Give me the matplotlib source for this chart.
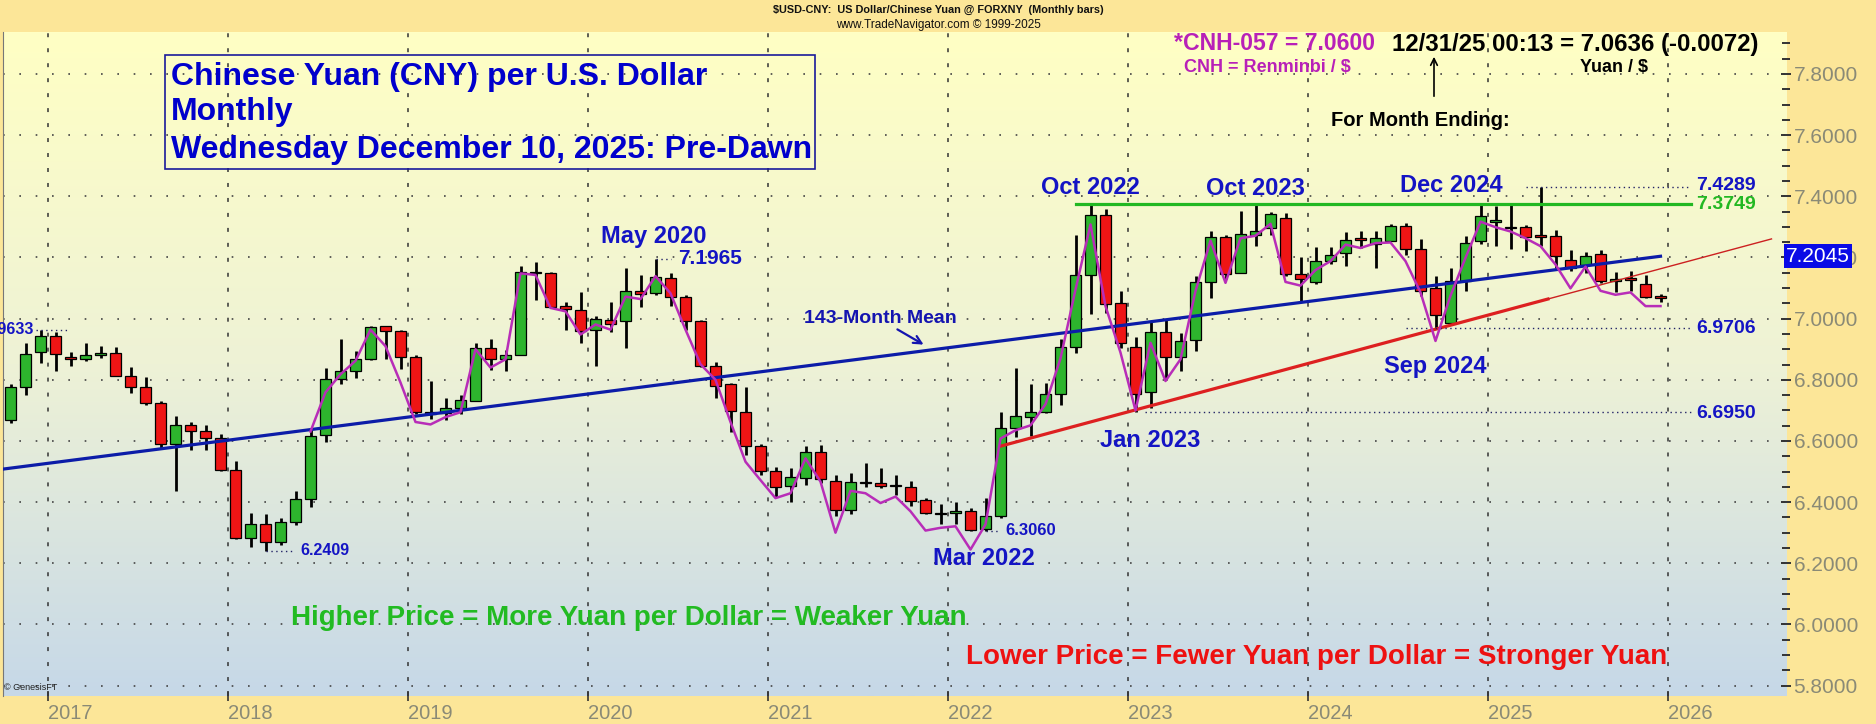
import numpy as np
import pandas as pd
import matplotlib
matplotlib.use('Agg')
import matplotlib.pyplot as plt
from matplotlib.colors import LinearSegmentedColormap
from matplotlib.patches import Rectangle
from matplotlib.ticker import MultipleLocator

plt.rcParams['font.family'] = ['Liberation Sans', 'DejaVu Sans']

# monthly bars, Oct 2016 .. Dec 2025
first_month = '2016-10'
opens = [6.667, 6.775, 6.891,
         6.943, 6.876, 6.867, 6.882, 6.888, 6.811, 6.778, 6.723, 6.589, 6.651, 6.632, 6.610,
         6.505, 6.283, 6.329, 6.270, 6.335, 6.410, 6.621, 6.804, 6.829, 6.869, 6.975, 6.959,
         6.876, 6.696, 6.690, 6.708, 6.732, 6.903, 6.867, 6.882, 7.153, 7.148, 7.042, 7.027,
         6.964, 6.994, 6.992, 7.092, 7.083, 7.134, 7.070, 6.991, 6.845, 6.786, 6.694, 6.584,
         6.503, 6.454, 6.480, 6.564, 6.470, 6.373, 6.467, 6.462, 6.456, 6.451, 6.408, 6.366,
         6.364, 6.370, 6.312, 6.354, 6.642, 6.678, 6.694, 6.752, 6.908, 7.144, 7.340, 7.050,
         6.908, 6.759, 6.957, 6.873, 6.930, 7.120, 7.267, 7.148, 7.274, 7.296, 7.328, 7.145,
         7.120, 7.188, 7.215, 7.263, 7.245, 7.253, 7.303, 7.228, 7.099, 6.987, 7.124, 7.253,
         7.317, 7.297, 7.301, 7.272, 7.269, 7.191, 7.177, 7.213, 7.124, 7.134, 7.113, 7.075]
highs = [6.786, 6.921, 6.9633,
         6.955, 6.891, 6.921, 6.910, 6.908, 6.843, 6.808, 6.732, 6.683, 6.662, 6.651, 6.624,
         6.535, 6.364, 6.361, 6.348, 6.437, 6.635, 6.840, 6.934, 6.894, 6.977, 6.977, 6.962,
         6.882, 6.797, 6.741, 6.751, 6.919, 6.934, 6.896, 7.173, 7.184, 7.153, 7.056, 7.086,
         7.010, 7.056, 7.164, 7.143, 7.1965, 7.150, 7.078, 6.994, 6.858, 6.791, 6.775, 6.590,
         6.516, 6.510, 6.584, 6.586, 6.489, 6.494, 6.527, 6.510, 6.489, 6.469, 6.412, 6.393,
         6.400, 6.381, 6.414, 6.694, 6.838, 6.786, 6.791, 6.934, 7.272, 7.3749, 7.359, 7.092,
         6.940, 6.990, 6.997, 6.952, 7.139, 7.288, 7.274, 7.352, 7.371, 7.349, 7.344, 7.202,
         7.234, 7.234, 7.282, 7.287, 7.285, 7.310, 7.312, 7.260, 7.140, 7.167, 7.271, 7.371,
         7.368, 7.371, 7.306, 7.4289, 7.290, 7.226, 7.217, 7.226, 7.151, 7.156, 7.142, 7.081]
lows = [6.660, 6.751, 6.856,
        6.829, 6.845, 6.862, 6.872, 6.811, 6.757, 6.719, 6.578, 6.435, 6.570, 6.570, 6.503,
        6.281, 6.253, 6.2409, 6.259, 6.324, 6.383, 6.597, 6.786, 6.805, 6.865, 6.867, 6.835,
        6.689, 6.672, 6.667, 6.689, 6.732, 6.832, 6.828, 6.882, 7.060, 7.035, 6.964, 6.921,
        6.845, 6.956, 6.905, 7.038, 7.078, 7.042, 6.964, 6.843, 6.742, 6.629, 6.554, 6.489,
        6.418, 6.402, 6.456, 6.462, 6.354, 6.361, 6.449, 6.445, 6.424, 6.386, 6.361, 6.329,
        6.327, 6.305, 6.306, 6.348, 6.613, 6.616, 6.692, 6.716, 6.889, 7.014, 7.019, 6.905,
        6.695, 6.707, 6.800, 6.829, 6.894, 7.068, 7.129, 7.148, 7.239, 7.274, 7.140, 7.054,
        7.113, 7.178, 7.172, 7.231, 7.167, 7.253, 7.207, 7.075, 6.9706, 6.981, 7.091, 7.245,
        7.237, 7.228, 7.220, 7.237, 7.167, 7.156, 7.148, 7.116, 7.088, 7.091, 7.068, 7.056]
closes = [6.775, 6.885, 6.943,
          6.883, 6.867, 6.882, 6.888, 6.811, 6.778, 6.723, 6.589, 6.651, 6.632, 6.610, 6.505,
          6.283, 6.329, 6.270, 6.335, 6.410, 6.615, 6.804, 6.829, 6.869, 6.973, 6.958, 6.876,
          6.694, 6.689, 6.708, 6.735, 6.903, 6.867, 6.882, 7.153, 7.148, 7.038, 7.031, 6.959,
          6.999, 6.981, 7.092, 7.080, 7.137, 7.072, 6.991, 6.845, 6.780, 6.697, 6.584, 6.503,
          6.451, 6.483, 6.564, 6.476, 6.373, 6.467, 6.462, 6.454, 6.452, 6.405, 6.364, 6.362,
          6.370, 6.310, 6.354, 6.642, 6.683, 6.694, 6.754, 6.908, 7.144, 7.340, 7.047, 6.921,
          6.754, 6.957, 6.876, 6.927, 7.120, 7.267, 7.145, 7.276, 7.288, 7.341, 7.145, 7.129,
          7.188, 7.207, 7.256, 7.256, 7.263, 7.303, 7.228, 7.091, 7.011, 7.124, 7.247, 7.337,
          7.323, 7.296, 7.267, 7.268, 7.206, 7.167, 7.206, 7.124, 7.131, 7.127, 7.072, 7.068]

# magenta line, Jun 2018 .. Dec 2025
line_start = '2018-06'
line_vals = [6.631, 6.759, 6.818, 6.862, 6.964, 6.910, 6.791,
             6.662, 6.654, 6.678, 6.694, 6.900, 6.840, 6.867, 7.148, 7.143, 7.035, 7.024, 6.948,
             6.981, 6.964, 7.072, 7.064, 7.139, 7.083, 6.964, 6.851, 6.800, 6.662, 6.532, 6.472,
             6.413, 6.429, 6.543, 6.467, 6.300, 6.437, 6.429, 6.397, 6.418, 6.370, 6.307, 6.316,
             6.321, 6.245, 6.327, 6.608, 6.635, 6.651, 6.720, 6.870, 7.095, 7.308, 7.041, 6.889,
             6.700, 6.921, 6.796, 6.867, 7.090, 7.255, 7.117, 7.263, 7.271, 7.310, 7.120, 7.108,
             7.159, 7.188, 7.242, 7.231, 7.247, 7.249, 7.188, 7.086, 6.927, 7.075, 7.199, 7.317,
             7.299, 7.285, 7.263, 7.237, 7.177, 7.099, 7.170, 7.091, 7.078, 7.086, 7.041, 7.041]

mean_vals = [6.508, 7.204]      # 143-month mean: left edge, Dec 2025
trend_vals = [6.583, 7.084]     # support line: Apr 2022, Jun 2025
resist = 7.3749
years = list(range(2017, 2027))
yticks = [5.8, 6.0, 6.2, 6.4, 6.6, 6.8, 7.0, 7.2, 7.4, 7.6, 7.8]

W, H = 1876, 724
def fx(px):
    return px / W
def fy(py):
    return 1 - py / H
def mx(s):
    p = pd.Period(s, freq='M')
    return (p.year - 2017) * 12 + p.month - 1 + 0.5

months = pd.period_range(first_month, periods=len(opens), freq='M')
xc = np.array((months.year - 2017) * 12 + months.month - 1) + 0.5
o = np.array(opens); h = np.array(highs); l = np.array(lows); c = np.array(closes)

BG = '#fce698'
GREEN = '#2db42d'
RED = '#ee1515'
BLUE = '#1414c4'
MAG = '#b82db8'

fig = plt.figure(figsize=(W / 100, H / 100), dpi=100, facecolor=BG)
ax = fig.add_axes([fx(3), fy(696), fx(1786 - 3), (696 - 32) / H])
x0, x1 = (3 - 48) / 15, (1786 - 48) / 15
y0, y1 = 7.8 - (696 - 74) / 305.8, 7.8 + (74 - 32) / 305.8
ax.set_xlim(x0, x1)
ax.set_ylim(y0, y1)

grad = LinearSegmentedColormap.from_list('bg', ['#ffffc4', '#eef2d6', '#c6d8e8'])
ax.imshow(np.linspace(0, 1, 256).reshape(-1, 1), cmap=grad, aspect='auto',
          extent=[x0, x1, y0, y1], zorder=0)

ax.set_axisbelow(True)
ax.grid(axis='y', which='major', color='#444444', ls=(0, (1, 8.8)), lw=1.2)
ax.grid(axis='x', which='major', color='#333333', ls=(0, (2.6, 7.2)), lw=1.1)

# candles
up = c >= o
ax.vlines(xc, l, h, color='black', lw=2.0, zorder=3)
ax.bar(xc, np.maximum(np.abs(c - o), 0.004), bottom=np.minimum(o, c), width=0.68,
       color=np.where(up, GREEN, RED), edgecolor='black', lw=0.9, zorder=4)

# 143-month mean
ax.plot([x0, mx('2025-12')], mean_vals, color='#0c1ca8', lw=2.3, zorder=5)

# support trend
ta, tb = mx('2022-04'), mx('2025-06')
slope = (trend_vals[1] - trend_vals[0]) / (tb - ta)
ax.plot([ta, 100.0], [trend_vals[0], trend_vals[0] + slope * (100.0 - ta)],
        color='#dd2020', lw=2.3, zorder=5)
ax.plot([100.0, 114.9], [trend_vals[0] + slope * (100.0 - ta), trend_vals[0] + slope * (114.9 - ta)],
        color='#cc2020', lw=1.0, zorder=5)

# resistance
ax.plot([68.5, 109.5], [resist, resist], color='#22b822', lw=2.3, zorder=5)

# magenta line
lm = pd.period_range(line_start, periods=len(line_vals), freq='M')
lx = np.array((lm.year - 2017) * 12 + lm.month - 1) + 0.5
ax.plot(lx, line_vals, color=MAG, lw=1.8, zorder=6)

# dotted level lines and labels
dot = dict(color='#222266', ls=(0, (1, 2.5)), lw=1.0, zorder=5)
ax.plot([-0.8, 1.27], [highs[2]] * 2, **dot)
ax.text(-0.93, highs[2], '6.9633', color=BLUE, fontsize=11.5, fontweight='bold',
        ha='right', va='center', zorder=7)
ax.plot([mx('2018-03'), 16.3], [lows[17]] * 2, **dot)
ax.text(16.85, lows[17], '6.2409', color=BLUE, fontsize=11.5, fontweight='bold',
        ha='left', va='center', zorder=7)
ax.plot([mx('2020-05'), 41.5], [highs[43]] * 2, **dot)
ax.text(42.0, highs[43], '7.1965', color=BLUE, fontsize=15, fontweight='bold',
        ha='left', va='center', zorder=7)
ax.plot([mx('2022-03'), 63.3], [lows[65]] * 2, **dot)
ax.text(63.8, lows[65], '6.3060', color=BLUE, fontsize=12, fontweight='bold',
        ha='left', va='center', zorder=7)

lab_x = 109.85
ax.plot([98.5, 109.5], [7.4289] * 2, **dot)
ax.plot([90.5, 109.5], [6.9706] * 2, **dot)
ax.plot([73.1, 109.5], [6.6950] * 2, **dot)
ax.text(lab_x, 7.437, '7.4289', color=BLUE, fontsize=14, fontweight='bold', ha='left', va='center', zorder=7)
ax.text(lab_x, resist - 0.003, '7.3749', color='#22b822', fontsize=14, fontweight='bold', ha='left', va='center', zorder=7)
ax.text(lab_x, 6.969, '6.9706', color=BLUE, fontsize=14, fontweight='bold', ha='left', va='center', zorder=7)
ax.text(lab_x, 6.691, '6.6950', color=BLUE, fontsize=14, fontweight='bold', ha='left', va='center', zorder=7)

# date labels
for txt, xx, yy in [('May 2020', 40.4, 7.267), ('Oct 2022', 69.47, 7.430),
                    ('Oct 2023', 80.47, 7.427), ('Dec 2024', 93.53, 7.434),
                    ('Sep 2024', 92.47, 6.845), ('Jan 2023', 73.47, 6.603),
                    ('Mar 2022', 62.4, 6.214)]:
    ax.text(xx, yy, txt, color=BLUE, fontsize=17, fontweight='bold', ha='center', va='center', zorder=7)

ax.text(55.47, 6.999, '143-Month Mean', color='#1414b0', fontsize=14, fontweight='bold',
        ha='center', va='center', zorder=7)
ax.annotate('', xy=(fx(926), fy(346)), xytext=(fx(895), fy(328)), xycoords='figure fraction',
            arrowprops=dict(arrowstyle='->', color='#1414b0', lw=1.6, mutation_scale=14))

# axes styling
for s in ['top', 'right', 'bottom']:
    ax.spines[s].set_visible(False)
ax.spines['left'].set_color('#777777')
ax.yaxis.tick_right()
ax.set_yticks(yticks)
ax.set_yticklabels([f'{v:.4f}' for v in yticks])
ax.yaxis.set_minor_locator(MultipleLocator(0.05))
ax.tick_params(axis='y', which='both', direction='inout', length=7, width=1.4,
               color='#333333', labelsize=15, labelcolor='#8a8a76', pad=2)
ax.tick_params(axis='y', which='minor', length=6)
ax.set_xticks([(y - 2017) * 12 for y in years])
ax.set_xticklabels([str(y) for y in years], ha='left')
ax.tick_params(axis='x', direction='inout', length=7, width=1.2, color='#333333',
               labelsize=14.5, labelcolor='#8a8a76', pad=2)

ax.text(1.0, 7.2045, '7.2045', transform=ax.get_yaxis_transform(), color='white',
        fontsize=15, ha='left', va='center', zorder=8, clip_on=False,
        bbox=dict(boxstyle='square,pad=0.12', facecolor='#0a0ae6', edgecolor='none'))

# title box
fig.add_artist(Rectangle((fx(165), fy(169)), fx(650), 114 / H, transform=fig.transFigure,
                         fill=False, edgecolor='#1a1a9a', lw=1.2))
for txt, yy in [('Chinese Yuan (CNY) per U.S. Dollar', 77), ('Monthly', 112),
                ('Wednesday December 10, 2025: Pre-Dawn', 150)]:
    fig.text(fx(171), fy(yy), txt, color='#0000cc', fontsize=23, fontweight='bold',
             ha='left', va='center')

# header
fig.text(fx(938), fy(9.5), '$USD-CNY:  US Dollar/Chinese Yuan @ FORXNY  (Monthly bars)',
         fontsize=7.8, fontweight='bold', ha='center', va='center', color='#111111')
fig.text(fx(938), fy(25), 'www.TradeNavigator.com \u00a9 1999-2025', fontsize=8.5,
         ha='center', va='center', color='#111111')

fig.text(fx(1174), fy(44), '*CNH-057 = 7.0600', color='#b820b8', fontsize=16.6,
         fontweight='bold', ha='left', va='center')
fig.text(fx(1392), fy(44), '12/31/25 00:13 = 7.0636 (-0.0072)', color='black', fontsize=17.3,
         fontweight='bold', ha='left', va='center')
fig.text(fx(1184), fy(68), 'CNH = Renminbi / $', color='#b820b8', fontsize=13,
         fontweight='bold', ha='left', va='center')
fig.text(fx(1580), fy(68), 'Yuan / $', color='black', fontsize=13,
         fontweight='bold', ha='left', va='center')
fig.text(fx(1420), fy(121), 'For Month Ending:', color='black', fontsize=14.5,
         fontweight='bold', ha='center', va='center')
ax.annotate('', xy=(fx(1434), fy(54)), xytext=(fx(1434), fy(99)), xycoords='figure fraction',
            arrowprops=dict(arrowstyle='->', color='black', lw=1.2, mutation_scale=12))

fig.text(fx(291), fy(618), 'Higher Price = More Yuan per Dollar = Weaker Yuan', color='#22bb22',
         fontsize=20, fontweight='bold', ha='left', va='center')
fig.text(fx(966), fy(657), 'Lower Price = Fewer Yuan per Dollar = Stronger Yuan', color='#ee1111',
         fontsize=20, fontweight='bold', ha='left', va='center')
fig.text(fx(4), fy(688), '\u00a9 GenesisFT', fontsize=6.5, ha='left', va='center', color='#222222')

fig.savefig('out.png', dpi=100, facecolor=BG)
